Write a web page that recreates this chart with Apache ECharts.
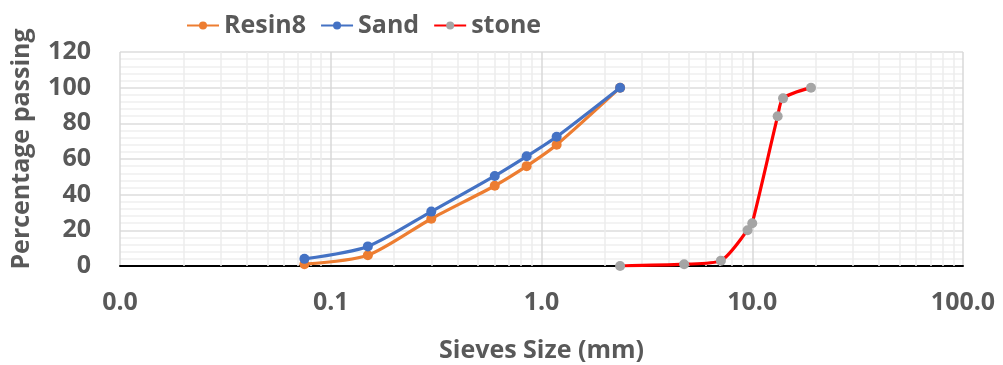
<!DOCTYPE html>
<html>
<head>
<meta charset="utf-8">
<script src="https://cdn.jsdelivr.net/npm/echarts@6/dist/echarts.min.js"></script>
<style>
  html, body { margin: 0; padding: 0; background: #fff; }
  #main { width: 1003px; height: 365px; }
</style>
</head>
<body>
<div id="main"></div>
<script>
// sieve sizes (mm) and percentage passing
const sieveSizes = [0.075, 0.15, 0.3, 0.6, 0.85, 1.18, 2.36];
const resin8 = [1, 6, 26.5, 45, 56, 68, 100];
const sand = [4, 11, 30.5, 50.5, 61.5, 72.5, 100];

const stoneSizes = [2.36, 4.75, 7.1, 9.5, 10, 13.2, 14, 19];
const stone = [0, 1, 3, 20, 24, 84, 94, 100];

const decades = [0.01, 0.1, 1, 10];

const textColor = "#595959";
const font = "'Open Sans', sans-serif";

// minor vertical grid lines (2..9 per decade)
const minorLines = [];
decades.forEach((d) => {
  for (let k = 2; k <= 9; k++) {
    minorLines.push({ xAxis: d * k });
  }
});

const pairs = (xs, ys) => xs.map((x, i) => [x, ys[i]]);

const lineSeries = (name, data, lineColor, markColor, z) => ({
  name: name,
  type: "line",
  z: z,
  data: data,
  smooth: 0.25,
  symbol: "circle",
  symbolSize: 10,
  itemStyle: { color: markColor, borderWidth: 0 },
  lineStyle: { color: lineColor, width: 3.2 },
});

const chart = echarts.init(document.getElementById("main"));

const option = {
  animation: false,
  textStyle: { fontFamily: font },
  legend: {
    data: ["Resin8", "Sand", "stone"],
    left: 181,
    top: 8,
    itemWidth: 32,
    itemHeight: 10,
    itemGap: 14,
    textStyle: { fontSize: 25, fontWeight: "bold", color: textColor, fontFamily: font },
  },
  grid: { left: 120, right: 40, top: 52, bottom: 99, outerBoundsMode: "none" },
  xAxis: {
    type: "log",
    logBase: 10,
    min: 0.01,
    max: 100,
    name: "Sieves Size (mm)",
    nameLocation: "middle",
    nameGap: 72,
    nameTextStyle: { fontSize: 25, fontWeight: "bold", color: textColor, fontFamily: font },
    axisLine: { onZero: false, lineStyle: { color: "#000", width: 2 } },
    axisTick: { show: false },
    axisLabel: {
      margin: 24,
      fontSize: 25,
      fontWeight: "bold",
      color: textColor,
      fontFamily: font,
      formatter: (v) => Number(v).toFixed(1),
    },
    splitLine: { show: true, lineStyle: { color: "#d9d9d9", width: 1.5 } },
  },
  yAxis: {
    type: "value",
    min: 0,
    max: 120,
    interval: 20,
    name: "Percentage passing",
    nameLocation: "middle",
    nameGap: 86,
    nameTextStyle: {
      fontSize: 25,
      fontWeight: "bold",
      color: textColor,
      fontFamily: font,
      padding: [0, 0, 0, 20],
    },
    axisLine: { show: false },
    axisTick: { show: false },
    axisLabel: {
      margin: 29,
      fontSize: 25,
      fontWeight: "bold",
      color: textColor,
      fontFamily: font,
    },
    splitLine: { show: true, lineStyle: { color: "#dcdcdc", width: 1.5 } },
    minorTick: { show: false, splitNumber: 5 },
    minorSplitLine: { show: true, lineStyle: { color: "#f0f0f0", width: 1.5 } },
  },
  series: [
    {
      name: "minor-grid",
      type: "line",
      data: [],
      z: 1,
      silent: true,
      markLine: {
        z: 1,
        silent: true,
        symbol: "none",
        label: { show: false },
        lineStyle: { color: "#ececec", width: 1.5, type: "solid" },
        data: minorLines,
      },
    },
    lineSeries("Resin8", pairs(sieveSizes, resin8), "#ED7D31", "#ED7D31", 3),
    lineSeries("Sand", pairs(sieveSizes, sand), "#4472C4", "#4472C4", 4),
    lineSeries("stone", pairs(stoneSizes, stone), "#FF0000", "#A5A5A5", 3),
  ],
};

chart.setOption(option);
</script>
</body>
</html>
